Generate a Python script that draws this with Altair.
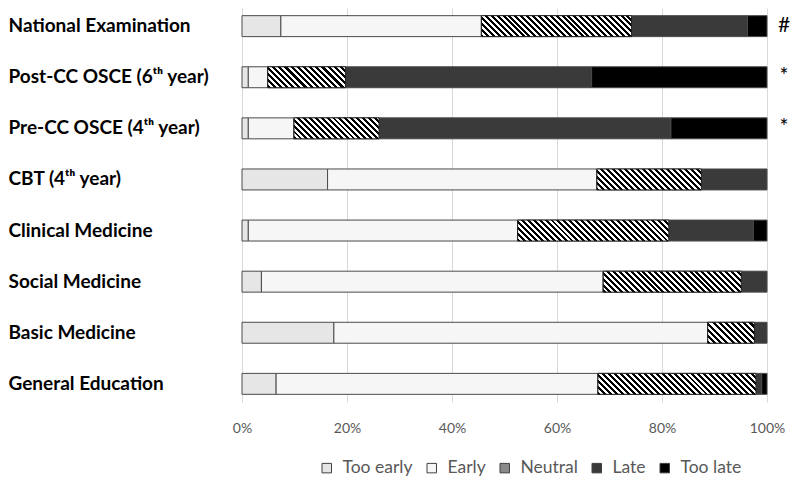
import altair as alt

categories = [
    "National Examination",
    "Post-CC OSCE (6ᵗʰ year)",
    "Pre-CC OSCE (4ᵗʰ year)",
    "CBT (4ᵗʰ year)",
    "Clinical Medicine",
    "Social Medicine",
    "Basic Medicine",
    "General Education",
]
responses = ["Too early", "Early", "Neutral", "Late", "Too late"]

too_early = [7.4, 1.2, 1.2, 16.3, 1.2, 3.7, 17.5, 6.5]
early = [38.2, 3.7, 8.7, 51.3, 51.3, 65.1, 71.2, 61.3]
neutral = [28.6, 14.8, 16.2, 19.9, 28.8, 26.3, 8.9, 30.1]
late = [22.1, 46.9, 55.6, 12.5, 16.1, 4.9, 2.4, 1.1]
too_late = [3.7, 33.4, 18.3, 0.0, 2.6, 0.0, 0.0, 1.0]
markers = ["#", "*", "*", "", "", "", "", ""]

colors = ["#e6e6e6", "#f6f6f6", "#8a8a8a", "#3a3a3a", "#000000"]

W = 525
H = 394
P_INNER = 0.59
P_OUTER = 0.15
STEP = H / (len(categories) - P_INNER + 2 * P_OUTER)
BAR_H = STEP * (1 - P_INNER)
PERIOD = 6.0


def hatch(value):
    w = max(value / 100 * W, 1.0)
    h = BAR_H
    r = h / w
    dx = (1 + r) / (1 + r * r)
    n = max(1, round((w + h) / PERIOD))
    stops = []
    for k in range(n):
        a = k / n
        b = (k + 0.5) / n
        c = (k + 1) / n
        stops += [
            {"offset": round(a, 5), "color": "#000000"},
            {"offset": round(b, 5), "color": "#000000"},
            {"offset": round(b, 5), "color": "#ffffff"},
            {"offset": round(c, 5), "color": "#ffffff"},
        ]
    return {
        "gradient": "linear",
        "x1": 0,
        "y1": 1,
        "x2": round(dx, 6),
        "y2": round(1 - dx * r, 6),
        "stops": stops,
    }


series = [too_early, early, neutral, late, too_late]
rows = []
hatch_rows = []
for i, cat in enumerate(categories):
    start = 0.0
    for resp, vals in zip(responses, series):
        v = vals[i]
        if v > 0:
            rows.append({"category": cat, "response": resp, "start": start, "end": start + v})
            if resp == "Neutral":
                hatch_rows.append({"category": cat, "start": start, "end": start + v, "grad": hatch(v)})
        start += v

mark_rows = [{"category": c, "marker": m} for c, m in zip(categories, markers) if m]

y_enc = alt.Y(
    "category:N",
    sort=categories,
    scale=alt.Scale(paddingInner=P_INNER, paddingOuter=P_OUTER),
    axis=alt.Axis(
        title=None,
        labelAlign="left",
        labelPadding=234,
        ticks=False,
        domain=False,
        labelFont="Lato",
        labelFontSize=19,
        labelFontWeight="bold",
        labelColor="#000000",
        labelLimit=260,
    ),
)

x_enc = alt.X(
    "start:Q",
    scale=alt.Scale(domain=[0, 100], nice=False),
    axis=alt.Axis(
        title=None,
        values=[0, 20, 40, 60, 80, 100],
        labelExpr="datum.value + '%'",
        labelFlush=False,
        grid=True,
        gridColor="#d9d9d9",
        domain=False,
        ticks=False,
        labelFont="Lato",
        labelFontSize=14,
        labelColor="#595959",
        labelPadding=19,
    ),
)

base = alt.Chart(alt.Data(values=rows)).mark_bar(
    stroke="#4a4a4a", strokeWidth=1, cornerRadius=0
).encode(
    x=x_enc,
    x2="end:Q",
    y=y_enc,
    color=alt.Color(
        "response:N",
        scale=alt.Scale(domain=responses, range=colors),
        legend=alt.Legend(
            title=None,
            orient="none",
            direction="horizontal",
            legendX=76,
            legendY=451,
            symbolType="square",
            symbolSize=90,
            symbolStrokeColor="#404040",
            symbolStrokeWidth=1,
            labelFont="Lato",
            labelFontSize=17.5,
            labelColor="#595959",
            labelOffset=7,
            columnPadding=10,
        ),
    ),
)

hatched = alt.Chart(alt.Data(values=hatch_rows)).mark_bar(
    stroke="#202020", strokeWidth=1
).encode(
    x=alt.X("start:Q"),
    x2="end:Q",
    y=alt.Y("category:N", sort=categories),
    fill=alt.Fill("grad:N", scale=None, legend=None),
)

marks = alt.Chart(alt.Data(values=mark_rows)).mark_text(
    font="Lato", fontSize=21, color="#000000", align="center", baseline="middle", dx=17
).encode(
    x=alt.datum(100),
    y=alt.Y("category:N", sort=categories),
    text="marker:N",
)

chart = (
    alt.layer(base, hatched, marks)
    .properties(width=W, height=H, padding={"left": 0, "top": 0, "right": 0, "bottom": 0})
    .configure_view(stroke=None)
)

chart.save("out.html", embed_options={"renderer": "svg", "actions": False})
